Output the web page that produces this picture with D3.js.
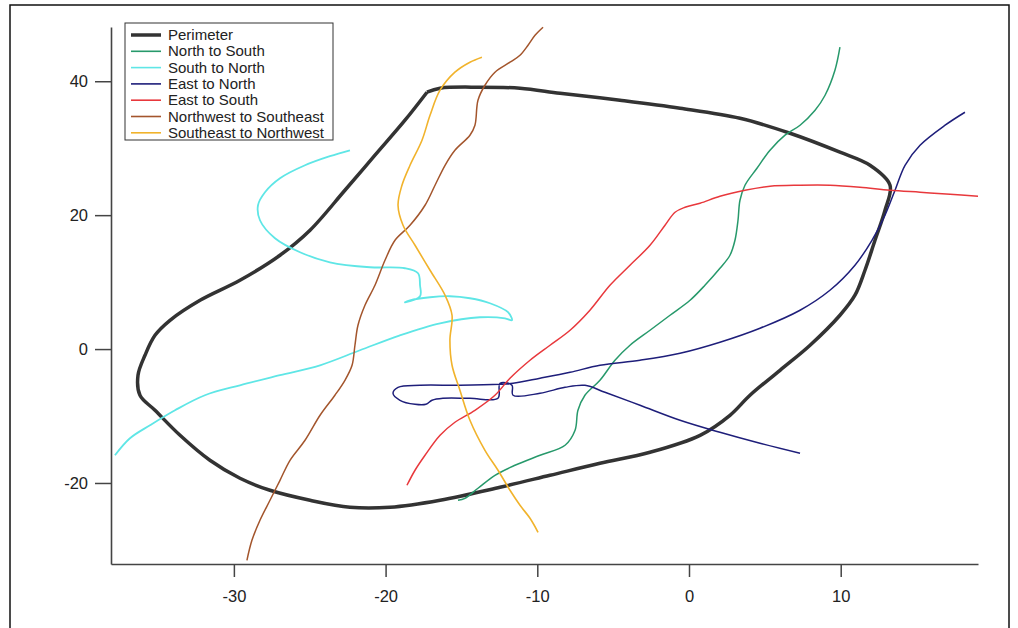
<!DOCTYPE html>
<html>
<head>
<meta charset="utf-8">
<script src="https://cdn.jsdelivr.net/npm/d3@7"></script>
<style>
  body { margin: 0; background: #fff; }
  svg { display: block; }
  text { font-family: Arial, "Liberation Sans", sans-serif; }
</style>
</head>
<body>
<svg id="chart" width="1018" height="628"></svg>
<script>
// tick values
var xTicks = [-30, -20, -10, 0, 10];
var yTicks = [-20, 0, 20, 40];

// tracks, [x, y]
var perimeter = [[-17.27,38.36],[-16.41,38.96],[-13.78,39.11],[-11.14,38.96],[-8.50,38.21],[-4.55,37.16],
  [-0.59,35.97],[3.36,34.47],[6.66,32.23],[9.95,29.40],[11.93,27.45],[13.25,24.47],[12.92,20.73],
  [12.26,16.25],[11.60,11.77],[10.94,8.04],[9.95,5.05],[7.98,0.57],[6.00,-3.17],[4.02,-6.90],
  [2.70,-9.89],[0.73,-12.88],[-2.57,-15.41],[-5.87,-17.06],[-9.16,-18.85],[-12.46,-20.64],
  [-16.41,-22.58],[-19.71,-23.63],[-22.35,-23.63],[-24.98,-22.58],[-27.62,-21.09],[-29.60,-19.30],
  [-31.58,-16.61],[-33.55,-12.88],[-35.20,-9.14],[-36.19,-6.90],[-36.32,-3.91],[-35.86,-0.93],
  [-35.20,2.06],[-34.21,4.30],[-32.23,7.29],[-29.60,10.28],[-26.96,14.01],[-24.98,17.75],
  [-22.68,23.72],[-20.70,28.95],[-18.72,34.18],[-17.27,38.36]];

var northToSouth = [[9.95,45.08],[9.62,41.64],[8.97,37.91],[8.31,35.67],[7.32,33.43],[6.33,31.94],
  [5.34,29.69],[4.48,27.01],[3.69,24.47],[3.36,22.23],[3.23,19.24],[3.03,16.25],[2.70,14.01],
  [2.04,12.07],[1.05,9.53],[0.07,7.29],[-1.25,5.05],[-2.57,2.81],[-3.89,0.57],[-4.88,-1.67],
  [-5.87,-4.66],[-6.86,-6.90],[-7.32,-9.14],[-7.51,-12.13],[-8.17,-14.37],[-9.82,-15.86],
  [-11.47,-17.36],[-12.79,-18.85],[-13.91,-20.79],[-14.77,-22.29],[-15.23,-22.58]];

var southToNorth = [[-37.84,-15.86],[-36.85,-13.32],[-35.53,-11.38],[-33.88,-9.14],[-31.91,-6.90],
  [-29.60,-5.41],[-26.96,-3.91],[-24.32,-2.42],[-21.69,-0.18],[-19.05,2.06],[-16.41,3.85],
  [-13.78,4.75],[-12.13,4.60],[-11.67,4.30],[-11.93,5.50],[-13.12,6.84],[-14.44,7.59],[-15.76,7.89],
  [-17.07,7.74],[-18.39,7.29],[-18.72,6.99],[-17.73,7.89],[-17.73,9.53],[-17.86,11.32],[-18.72,12.07],
  [-21.03,12.22],[-23.67,12.96],[-25.64,14.46],[-27.29,16.55],[-28.28,19.24],[-28.41,21.48],
  [-27.95,23.42],[-26.96,25.51],[-25.31,27.45],[-23.67,28.80],[-22.35,29.69]];

var eastToNorth = [[7.32,-15.56],[4.68,-14.07],[2.04,-12.43],[-0.59,-10.63],[-3.23,-8.39],[-5.54,-6.45],
  [-6.86,-5.41],[-8.17,-5.71],[-9.82,-6.60],[-11.60,-6.90],[-11.67,-5.41],[-12.46,-5.11],[-12.59,-7.35],
  [-14.44,-7.35],[-16.22,-7.35],[-16.94,-7.65],[-17.34,-8.25],[-18.06,-8.25],[-19.05,-7.65],
  [-19.51,-6.60],[-19.18,-5.71],[-17.73,-5.41],[-15.10,-5.41],[-12.46,-5.26],[-11.60,-5.11],
  [-9.82,-4.36],[-7.84,-3.47],[-5.87,-2.42],[-3.23,-1.67],[-0.59,-0.63],[2.04,1.02],[4.68,3.11],
  [7.32,5.80],[9.29,8.78],[10.94,12.52],[12.06,16.25],[12.92,19.99],[13.58,23.72],[14.24,27.45],
  [15.23,30.44],[16.88,33.43],[18.19,35.37]];

var eastToSouth = [[19.05,22.82],[17.21,23.12],[15.23,23.42],[13.25,23.72],[11.27,24.17],[9.29,24.47],
  [7.32,24.47],[5.34,24.32],[3.69,23.72],[2.04,22.82],[0.73,21.78],[-0.26,21.18],[-0.92,20.43],
  [-1.58,18.49],[-2.57,15.50],[-3.89,12.52],[-5.21,9.53],[-6.53,5.80],[-7.84,2.81],[-9.16,0.57],
  [-10.48,-1.67],[-11.80,-4.36],[-12.79,-6.90],[-14.11,-9.14],[-15.43,-10.93],[-16.41,-12.88],
  [-17.40,-15.86],[-18.06,-18.10],[-18.59,-20.34]];

var nwToSe = [[-9.62,48.07],[-10.15,46.87],[-10.61,45.38],[-11.14,43.88],[-11.80,42.84],[-12.79,41.35],
  [-13.45,39.40],[-13.91,37.16],[-14.11,33.43],[-14.44,31.94],[-15.43,29.69],[-16.08,27.45],
  [-16.74,24.47],[-17.40,21.48],[-18.39,18.49],[-19.38,16.25],[-20.04,13.26],[-20.70,9.53],
  [-21.36,6.54],[-21.82,3.55],[-22.02,0.57],[-22.21,-2.42],[-22.68,-4.66],[-23.34,-6.90],
  [-24.32,-9.89],[-25.31,-13.62],[-26.30,-16.61],[-26.96,-19.60],[-27.62,-22.58],[-28.28,-25.57],
  [-28.81,-28.56],[-29.14,-31.55]];

var seToNw = [[-9.95,-27.36],[-10.48,-25.27],[-11.14,-23.33],[-11.80,-21.09],[-12.59,-18.10],
  [-13.45,-15.12],[-14.44,-10.63],[-15.10,-6.15],[-15.62,-2.42],[-15.76,1.31],[-15.62,5.05],
  [-16.08,8.04],[-17.07,11.77],[-18.06,15.50],[-18.85,18.49],[-19.18,21.48],[-18.92,24.47],
  [-18.39,27.45],[-17.60,31.19],[-17.07,34.92],[-16.41,38.66],[-15.43,41.35],[-14.44,42.84],
  [-13.65,43.59]];

var names = ["Perimeter", "North to South", "South to North", "East to North",
  "East to South", "Northwest to Southeast", "Southeast to Northwest"];
var tracks = [perimeter, northToSouth, southToNorth, eastToNorth, eastToSouth, nwToSe, seToNw];
var colors = ["#333333", "#27996b", "#5fe6e6", "#1e1e7a", "#e8383c", "#a3552c", "#f1b32c"];
var widths = [3.5, 1.5, 1.8, 1.5, 1.5, 1.5, 1.6];

var svg = d3.select("#chart");

// outer frame
svg.append("rect")
  .attr("x", 10).attr("y", 5).attr("width", 999).attr("height", 640)
  .attr("fill", "none").attr("stroke", "#111").attr("stroke-width", 1.5);

var x = d3.scaleLinear().domain([-38.1, 19.05]).range([111, 978]);
var y = d3.scaleLinear().domain([-32.1, 48.1]).range([564, 27]);

var line = d3.line()
  .x(function(d) { return x(d[0]); })
  .y(function(d) { return y(d[1]); })
  .curve(d3.curveCatmullRom.alpha(0.5));

tracks.forEach(function(t, i) {
  svg.append("path")
    .datum(t)
    .attr("d", line)
    .attr("fill", "none")
    .attr("stroke", colors[i])
    .attr("stroke-width", widths[i])
    .attr("stroke-linejoin", "round");
});

// axes, plain hyphen minus like the original
var fmt = function(d) { return String(d); };
var xAxis = svg.append("g")
  .attr("transform", "translate(0,564)")
  .call(d3.axisBottom(x).tickValues(xTicks).tickFormat(fmt).tickSize(13).tickPadding(13).tickSizeOuter(0));
var yAxis = svg.append("g")
  .attr("transform", "translate(111,0)")
  .call(d3.axisLeft(y).tickValues(yTicks).tickFormat(fmt).tickSize(16).tickPadding(7).tickSizeOuter(0));

[xAxis, yAxis].forEach(function(a) {
  a.select(".domain").attr("stroke", "#444").attr("stroke-width", 1.6);
  a.selectAll(".tick line").attr("stroke", "#444").attr("stroke-width", 1.5);
  a.selectAll(".tick text")
    .attr("font-size", 16.5)
    .attr("fill", "#222")
    .style("font-family", "Arial, 'Liberation Sans', sans-serif");
});

// legend
var lg = svg.append("g").attr("transform", "translate(125,23)");
lg.append("rect")
  .attr("width", 208).attr("height", 117)
  .attr("fill", "#fff").attr("stroke", "#333").attr("stroke-width", 1);

names.forEach(function(n, i) {
  var cy = 12 + i * 16.3;
  lg.append("line")
    .attr("x1", 6).attr("x2", 36).attr("y1", cy).attr("y2", cy)
    .attr("stroke", colors[i]).attr("stroke-width", i === 0 ? 3.5 : 1.6);
  lg.append("text")
    .attr("x", 43).attr("y", cy + 5)
    .attr("font-size", 15).attr("fill", "#222")
    .text(n);
});
</script>
</body>
</html>
